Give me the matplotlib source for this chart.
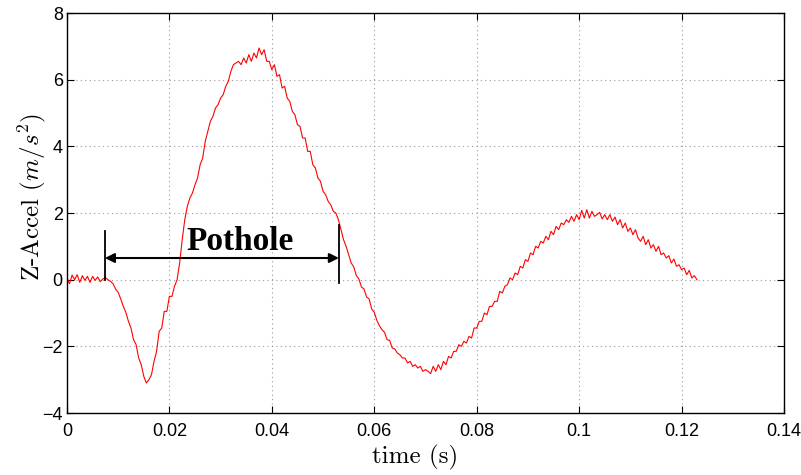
import numpy as np
import matplotlib
import matplotlib.pyplot as plt

matplotlib.use('Agg')

# samples, 0.5 ms apart
dt = 0.0005
z_accel = [
    0.05, -0.12, 0.14, 0.0, 0.15, -0.08, 0.12, -0.02, 0.1, -0.08, 0.1, -0.02, 0.08, -0.06, 0.02, 0.06,
    0.0, -0.05, -0.12, -0.28, -0.38, -0.58, -0.8, -0.98, -1.25, -1.45, -1.8, -1.95, -2.35, -2.55, -2.9, -3.1,
    -3.0, -2.85, -2.45, -2.15, -1.55, -1.45, -0.95, -0.95, -0.5, -0.5, -0.2, 0.0, 0.5, 1.2, 1.8, 2.2,
    2.45, 2.6, 2.85, 3.05, 3.45, 3.65, 4.15, 4.45, 4.75, 4.9, 5.15, 5.25, 5.45, 5.55, 5.8, 5.95,
    6.25, 6.45, 6.5, 6.55, 6.45, 6.65, 6.5, 6.75, 6.55, 6.8, 6.65, 6.95, 6.75, 6.9, 6.55, 6.55,
    6.3, 6.45, 6.1, 6.15, 5.75, 5.8, 5.45, 5.35, 5.05, 4.95, 4.65, 4.6, 4.25, 4.25, 3.85, 3.85,
    3.45, 3.35, 3.05, 2.95, 2.65, 2.55, 2.35, 2.25, 2.05, 2.0, 1.8, 1.5, 1.2, 1.0, 0.75, 0.5,
    0.38, 0.12, 0.02, -0.22, -0.28, -0.52, -0.58, -0.88, -0.98, -1.22, -1.38, -1.5, -1.58, -1.8, -1.82, -2.05,
    -2.08, -2.2, -2.25, -2.35, -2.35, -2.5, -2.45, -2.6, -2.55, -2.65, -2.6, -2.75, -2.7, -2.75, -2.82, -2.6,
    -2.75, -2.55, -2.7, -2.45, -2.55, -2.3, -2.35, -2.15, -2.15, -1.95, -2.0, -1.85, -1.9, -1.7, -1.75, -1.45,
    -1.45, -1.25, -1.25, -1.0, -1.05, -0.8, -0.8, -0.65, -0.65, -0.35, -0.4, -0.2, -0.15, 0.05, 0.0, 0.2,
    0.15, 0.4, 0.35, 0.6, 0.55, 0.8, 0.75, 1.0, 0.95, 1.15, 1.1, 1.3, 1.2, 1.45, 1.35, 1.6,
    1.5, 1.7, 1.65, 1.8, 1.72, 1.9, 1.75, 1.95, 1.8, 2.08, 1.85, 2.1, 1.85, 2.05, 1.9, 1.95,
    2.02, 1.82, 1.95, 1.8, 1.95, 1.75, 1.88, 1.65, 1.8, 1.55, 1.7, 1.45, 1.55, 1.35, 1.5, 1.25,
    1.15, 1.3, 1.05, 1.2, 0.95, 1.05, 0.85, 1.0, 0.75, 0.8, 0.65, 0.72, 0.5, 0.62, 0.4, 0.45,
    0.3, 0.35, 0.15, 0.28, 0.05, 0.12, 0.0,
]
time = np.arange(len(z_accel)) * dt

# pothole marker
pothole_start = 0.0074
pothole_end = 0.0531
arrow_y = 0.65
left_bar = (0.0, 1.45)
right_bar = (-0.1, 1.65)

plt.rcParams['font.family'] = ['Liberation Sans', 'DejaVu Sans']
plt.rcParams['mathtext.fontset'] = 'cm'

fig = plt.figure(figsize=(8.01, 4.75), dpi=100)
ax = fig.add_axes([0.0836, 0.1305, 0.8952, 0.8421])

ax.plot(time, z_accel, color='#ff0000', lw=0.8)

ax.set_xlim(0, 0.14)
ax.set_ylim(-4, 8)
ax.set_xticks(np.arange(0, 0.141, 0.02))
ax.set_xticklabels(['0', '0.02', '0.04', '0.06', '0.08', '0.1', '0.12', '0.14'])
ax.set_yticks(np.arange(-4, 8.1, 2))
ax.tick_params(direction='in', top=True, right=True, length=5, width=0.8,
               labelsize=13, colors='black')
ax.tick_params(axis='x', pad=7)
ax.tick_params(axis='y', pad=3)
ax.grid(True, color='#999999', linestyle=(0, (1, 3)), lw=0.8)
for s in ax.spines.values():
    s.set_linewidth(1.0)
    s.set_color('black')

ax.set_xlabel('time (s)', family='cmr10', fontsize=18)
ax.set_ylabel(r'Z-Accel ($m/s^2$)', family='cmr10', fontsize=18)
ax.xaxis.set_label_coords(0.485, -0.08)
ax.yaxis.set_label_coords(-0.026, 0.54)

ax.plot([pothole_start, pothole_start], left_bar, color='black', lw=1.3)
ax.plot([pothole_end, pothole_end], right_bar, color='black', lw=1.3)
ax.annotate('', xy=(pothole_end, arrow_y), xytext=(pothole_start, arrow_y),
            arrowprops=dict(arrowstyle='<|-|>', color='black', lw=1.5,
                            mutation_scale=14, shrinkA=0, shrinkB=0))
ax.text(0.0338, 0.9, 'Pothole', family='Liberation Serif', fontweight='bold',
        fontsize=24, ha='center', va='baseline')

fig.savefig('out.png', dpi=100)
